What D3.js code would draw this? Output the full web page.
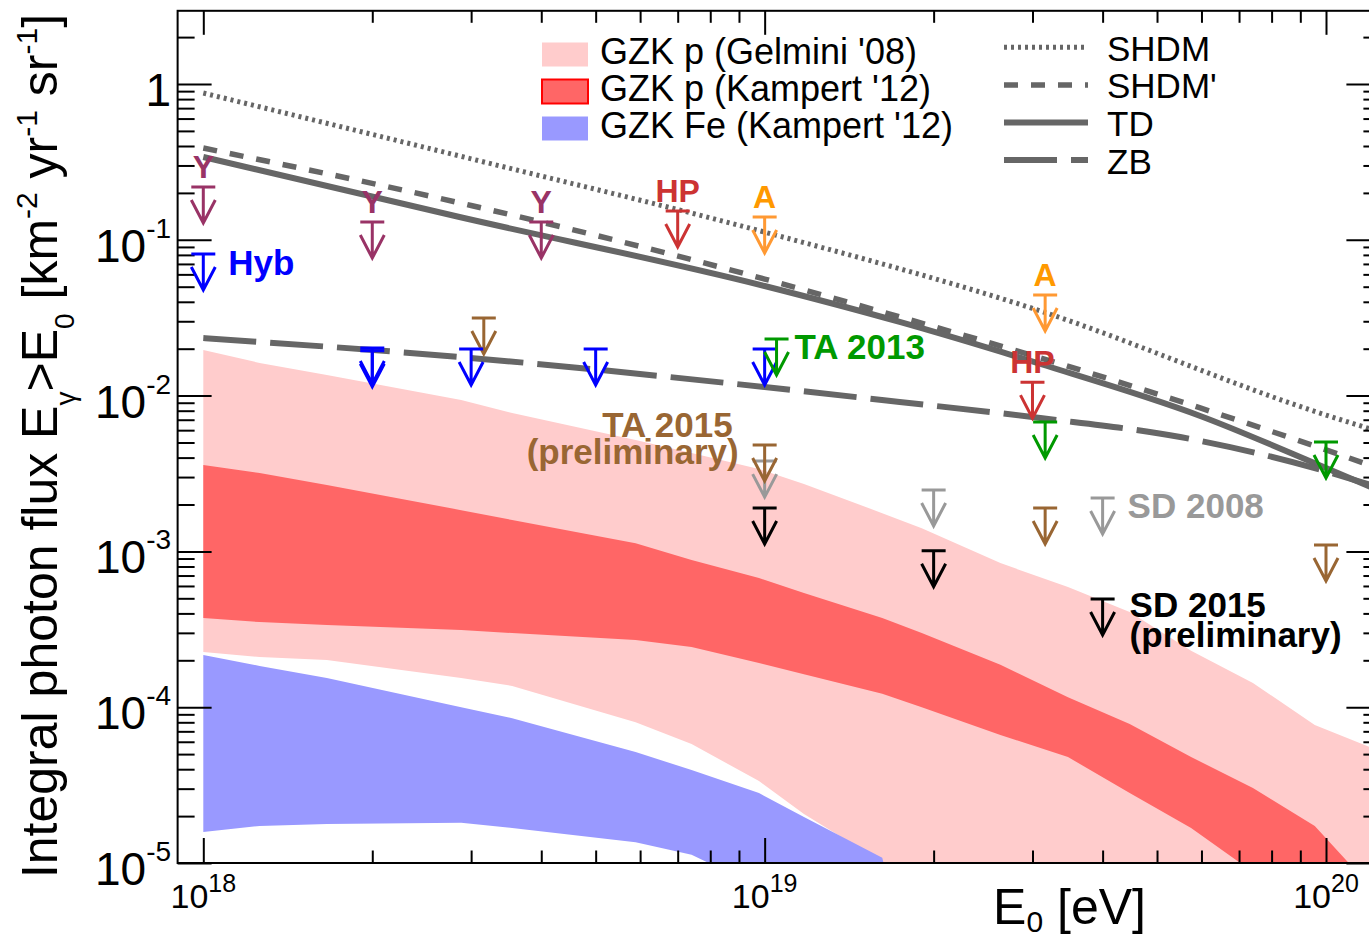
<!DOCTYPE html>
<html>
<head>
<meta charset="utf-8">
<script src="https://cdn.jsdelivr.net/npm/d3@7"></script>
<style>
  body { margin: 0; background: #fff; }
  text { font-family: "Liberation Sans", Arial, Helvetica, sans-serif; }
</style>
</head>
<body>
<div id="chart"></div>
<script>
const WIDTH = 1369;
const HEIGHT = 938;

// ---- GZK bands: energy grid [eV] and flux bounds [km^-2 yr^-1 sr^-1]
const bandE = [1e18, 1.26e18, 1.66e18, 2.88e18, 3.55e18, 5.89e18, 7.41e18, 9.77e18, 1.175e19,
               1.62e19, 1.905e19, 2.63e19, 3.47e19, 4.47e19, 5.75e19, 7.41e19, 9.55e19, 1.25e20];
const gelminiHi = [0.0196, 0.0162, 0.01355, 0.00938, 0.00773, 0.00519, 0.00428, 0.00338, 0.00271,
                   0.00176, 0.00141, 8.41e-4, 5.91e-4, 4.08e-4, 2.3e-4, 1.43e-4, 7.7e-5, 5.2e-5];
const gelminiLo = [2.26e-4, 2.1e-4, 2.01e-4, 1.54e-4, 1.37e-4, 8.0e-5, 5.8e-5, 3.36e-5, 2.06e-5,
                   1.01e-5, 1e-6, 1e-6, 1e-6, 1e-6, 1e-6, 1e-6, 1e-6, 1e-6];
const kampertPHi = [3.59e-3, 3.18e-3, 2.67e-3, 1.84e-3, 1.59e-3, 1.13e-3, 8.8e-4, 6.75e-4, 5.41e-4,
                    3.74e-4, 2.99e-4, 1.87e-4, 1.16e-4, 7.8e-5, 4.79e-5, 3.03e-5, 1.73e-5, 6e-6];
const kampertPLo = [3.74e-4, 3.52e-4, 3.37e-4, 3.13e-4, 2.99e-4, 2.7e-4, 2.43e-4, 1.92e-4, 1.63e-4,
                    1.22e-4, 1.0e-4, 6.63e-5, 4.79e-5, 2.81e-5, 1.68e-5, 8.75e-6, 1e-6, 1e-6];
const kampertFeHi = [2.16e-4, 1.84e-4, 1.54e-4, 1.0e-4, 8.5e-5, 5.16e-5, 3.95e-5, 2.81e-5, 1.97e-5,
                     1.08e-5, 1e-6, 1e-6, 1e-6, 1e-6, 1e-6, 1e-6, 1e-6, 1e-6];
const kampertFeLo = [1.58e-5, 1.73e-5, 1.78e-5, 1.81e-5, 1.68e-5, 1.36e-5, 1.13e-5, 7e-6, 1e-6,
                     1e-6, 1e-6, 1e-6, 1e-6, 1e-6, 1e-6, 1e-6, 1e-6, 1e-6];

// ---- top-down models
const shdmE = [1e18, 3e18, 1e19, 3e19, 1e20, 1.25e20];
const shdmF = [0.875, 0.331, 0.112, 0.0363, 0.0075, 0.00584];
const shdm2E = [1e18, 3e18, 1e19, 1.74e19, 3e19, 5.97e19, 1e20, 1.25e20];
const shdm2F = [0.388, 0.166, 0.056, 0.0320, 0.0181, 0.00833, 0.00448, 0.00338];
const tdE = [1e18, 2.86e18, 1e19, 1.74e19, 3.1e19, 5.97e19, 1e20, 1.25e20];
const tdF = [0.340, 0.140, 0.0505, 0.0297, 0.01595, 0.0074, 0.00343, 0.00244];
const zbE = [1e18, 2.86e18, 1e19, 1.74e19, 3.1e19, 5.5e19, 9.4e19, 1.25e20];
const zbF = [0.0234, 0.0177, 0.01135, 0.0091, 0.00718, 0.00542, 0.00348, 0.00255];

// ---- upper limits
const sd08E = [1e19, 2e19, 4e19];
const sd08F = [0.0038, 0.00248, 0.0022];
const sd15E = [1e19, 2e19, 4e19];
const sd15F = [0.0019, 0.00101, 0.000495];
const ta15E = [3.16e18, 1e19, 3.16e19, 1e20];
const ta15F = [0.0315, 0.00482, 0.0019, 0.0011];
const hybE = [1e18, 2e18, 2e18, 3e18, 5e18, 1e19];
const hybF = [0.081, 0.0202, 0.0194, 0.0199, 0.0199, 0.0199];
const ta13E = [1.05e19, 3.16e19, 1e20];
const ta13F = [0.0231, 0.00677, 0.00504];
const yakE = [1e18, 2e18, 4e18];
const yakF = [0.218, 0.130, 0.130];
const hpE = [7e18, 3e19];
const hpF = [0.153, 0.0122];
const agasaE = [1e19, 3.16e19];
const agasaF = [0.140, 0.0442];

const xMajor = [1e18, 1e19, 1e20];
const yMajor = [1, 1e-1, 1e-2, 1e-3, 1e-4, 1e-5];

// ---- scales
var x = d3.scaleLog().domain([1e18, 1e20]).range([203.3, 1326]);
var y = d3.scaleLog().domain([1e-5, 1]).range([863, 84]);
const X0 = x(9e17), X1 = x(1.25e20), Y0 = y(1e-5), Y1 = y(2.95);

const GREY = "#666666";

var svg = d3.select("div#chart").append("svg")
    .attr("width", WIDTH)
    .attr("height", HEIGHT);

svg.append("clipPath").attr("id", "frame")
  .append("rect")
    .attr("x", X0).attr("y", Y1)
    .attr("width", X1 - X0).attr("height", Y0 - Y1);

// ---- bands
const bands = [
  { name: "GZK p (Gelmini '08)", color: "#ffcccc", lo: gelminiLo, hi: gelminiHi },
  { name: "GZK p (Kampert '12)", color: "#ff6666", lo: kampertPLo, hi: kampertPHi, edge: "#ff0000" },
  { name: "GZK Fe (Kampert '12)", color: "#9999ff", lo: kampertFeLo, hi: kampertFeHi }
];

const area = d3.area()
    .x(d => x(d[0]))
    .y0(d => y(d[1]))
    .y1(d => y(d[2]));

svg.append("g").attr("clip-path", "url(#frame)")
  .selectAll("path.band").data(bands).join("path")
    .attr("class", "band")
    .attr("fill", d => d.color)
    .attr("d", d => area(bandE.map((e, i) => [e, d.lo[i], d.hi[i]])));

// ---- model lines
const models = [
  { name: "SHDM", E: shdmE, F: shdmF, dash: "3,4", w: 5 },
  { name: "SHDM'", E: shdm2E, F: shdm2F, dash: "14,13", w: 5.5 },
  { name: "TD", E: tdE, F: tdF, dash: null, w: 6 },
  { name: "ZB", E: zbE, F: zbF, dash: "53,14", w: 6 }
];

const lineFunc = d3.line()
    .curve(d3.curveMonotoneX)
    .x(d => x(d[0]))
    .y(d => y(d[1]));

svg.append("g").attr("clip-path", "url(#frame)")
    .attr("fill", "none").attr("stroke", GREY)
  .selectAll("path.model").data(models).join("path")
    .attr("class", "model")
    .attr("stroke-width", d => d.w)
    .attr("stroke-dasharray", d => d.dash)
    .attr("d", d => lineFunc(d.E.map((e, i) => [e, d.F[i]])));

// ---- axes (ticks point inwards)
const minorX = [];
for (let p = 17; p <= 20; p++) for (let m = 2; m <= 9; m++) minorX.push(m * Math.pow(10, p));
const minorXin = minorX.filter(v => v > 9e17 && v < 1.25e20);
const minorY = [];
for (let p = -5; p <= 0; p++) for (let m = 2; m <= 9; m++) minorY.push(m * Math.pow(10, p));
const minorYin = minorY.filter(v => v < 2.95);

function tickAxis(axis, values, size, tx, ty) {
  svg.append("g")
      .attr("transform", `translate(${tx},${ty})`)
      .call(axis.tickValues(values).tickSize(-size).tickFormat(""))
      .call(g => g.select(".domain").remove())
      .call(g => g.selectAll("line").attr("stroke", "#000").attr("stroke-width", 2));
}
tickAxis(d3.axisBottom(x), xMajor, 25, 0, Y0);
tickAxis(d3.axisBottom(x), minorXin, 12.5, 0, Y0);
tickAxis(d3.axisTop(x), xMajor, 24, 0, Y1);
tickAxis(d3.axisTop(x), minorXin, 12, 0, Y1);
tickAxis(d3.axisLeft(y), yMajor, 34, X0, 0);
tickAxis(d3.axisLeft(y), minorYin, 17, X0, 0);
tickAxis(d3.axisRight(y), yMajor, 34, X1, 0);
tickAxis(d3.axisRight(y), minorYin, 17, X1, 0);

svg.append("rect")
    .attr("x", X0).attr("y", Y1)
    .attr("width", X1 - X0).attr("height", Y0 - Y1)
    .attr("fill", "none").attr("stroke", "#000").attr("stroke-width", 2);

// tick labels
svg.selectAll("text.ylab").data(yMajor).join("text")
    .attr("class", "ylab")
    .attr("x", X0 - 6.5).attr("y", d => y(d) + 22)
    .attr("text-anchor", "end")
    .style("font-size", "46px")
    .each(function(d) {
      const t = d3.select(this), e = Math.round(Math.log10(d));
      if (e === 0) { t.text("1"); return; }
      t.append("tspan").text("10");
      t.append("tspan").attr("dy", -24).style("font-size", "28px").text(e);
    });

svg.selectAll("text.xlab").data(xMajor).join("text")
    .attr("class", "xlab")
    .attr("x", d => x(d)).attr("y", Y0 + 45)
    .attr("text-anchor", "middle")
    .style("font-size", "34px")
    .each(function(d) {
      const t = d3.select(this);
      t.append("tspan").text("10");
      t.append("tspan").attr("dy", -16).style("font-size", "25px").text(Math.round(Math.log10(d)));
    });

// axis titles
const xt = svg.append("text")
    .attr("x", 1146).attr("y", 924)
    .attr("text-anchor", "end")
    .style("font-size", "50px");
xt.append("tspan").text("E");
xt.append("tspan").attr("dy", 8).style("font-size", "30px").text("0");
xt.append("tspan").attr("dy", -8).text(" [eV]");

const yt = svg.append("text")
    .attr("transform", "translate(57,446) rotate(-90)")
    .attr("text-anchor", "middle")
    .style("font-size", "50px");
[["Integral photon flux E", 0, null], ["\u03b3", 18, 28], [">", -18, null], ["E", 0, null],
 ["0", 17, 28], [" [km", -17, null], ["-2", -20, 30], [" yr", 20, null], ["-1", -20, 30],
 [" sr", 20, null], ["-1", -20, 30], ["]", 20, null]].forEach(([s, dy, fs]) => {
  const sp = yt.append("tspan").attr("dy", dy).text(s);
  if (fs) sp.style("font-size", fs + "px");
});

// ---- upper limit arrows
const limits = [
  { name: "SD 2008", color: "#999999", E: sd08E, F: sd08F },
  { name: "SD 2015", color: "#000000", E: sd15E, F: sd15F },
  { name: "TA 2015", color: "#996633", E: ta15E, F: ta15F },
  { name: "Hyb", color: "#0000ff", E: hybE, F: hybF },
  { name: "TA 2013", color: "#009900", E: ta13E, F: ta13F },
  { name: "Y", color: "#993366", E: yakE, F: yakF, tag: "Y", tagColor: "#993366" },
  { name: "HP", color: "#cc3333", E: hpE, F: hpF, tag: "HP", tagColor: "#cc3333" },
  { name: "A", color: "#ff9933", E: agasaE, F: agasaF, tag: "A", tagColor: "#ff9900" }
];

limits.forEach(s => {
  const g = svg.append("g");
  const pts = s.E.map((e, i) => [e, s.F[i]]);
  g.selectAll("path").data(pts).join("path")
      .attr("transform", d => `translate(${x(d[0])},${y(d[1])})`)
      .attr("d", "M-12,0H12M0,0V36M-12,13L0,36L12,13")
      .attr("fill", "none").attr("stroke", s.color).attr("stroke-width", 3);
  if (s.tag) {
    g.selectAll("text").data(pts).join("text")
        .attr("x", d => x(d[0])).attr("y", d => y(d[1]) - 9.5)
        .attr("text-anchor", "middle")
        .attr("fill", s.tagColor)
        .style("font-size", "32px").style("font-weight", "bold")
        .text(s.tag);
  }
});

// side labels, placed relative to one limit of their data set
function sideLabel(lines, color, E, F, dx, anchor) {
  lines.forEach(([s, dy]) => {
    svg.append("text")
        .attr("x", x(E) + dx).attr("y", y(F) + dy)
        .attr("text-anchor", anchor)
        .attr("fill", color)
        .style("font-size", "35px").style("font-weight", "bold")
        .text(s);
  });
}
sideLabel([["Hyb", 21]], "#0000ff", hybE[0], hybF[0], 25, "start");
sideLabel([["TA 2013", 20]], "#009900", ta13E[0], ta13F[0], 18, "start");
sideLabel([["TA 2015", -8]], "#996633", ta15E[1], ta15F[1], -32, "end");
sideLabel([["(preliminary)", 19]], "#996633", ta15E[1], ta15F[1], -26, "end");
sideLabel([["SD 2008", 20]], "#999999", sd08E[2], sd08F[2], 25, "start");
sideLabel([["SD 2015", 18], ["(preliminary)", 48]], "#000000", sd15E[2], sd15F[2], 27, "start");

// ---- legends
const leg1 = svg.append("g");
bands.forEach((b, i) => {
  const cy = 54.5 + 37 * i;
  leg1.append("rect")
      .attr("x", 542).attr("y", cy - 12).attr("width", 46).attr("height", 24)
      .attr("fill", b.color)
      .attr("stroke", b.edge || "none").attr("stroke-width", 2);
  leg1.append("text")
      .attr("x", 600).attr("y", cy + 9.5)
      .style("font-size", "36px")
      .text(b.name);
});

const leg2 = svg.append("g");
models.forEach((m, i) => {
  const cy = 47.3 + 37.6 * i;
  leg2.append("line")
      .attr("x1", 1004).attr("x2", 1088).attr("y1", cy).attr("y2", cy)
      .attr("stroke", GREY).attr("stroke-width", m.w)
      .attr("stroke-dasharray", m.dash);
  leg2.append("text")
      .attr("x", 1107).attr("y", cy + 13.5)
      .style("font-size", "35px")
      .text(m.name);
});
</script>
</body>
</html>
